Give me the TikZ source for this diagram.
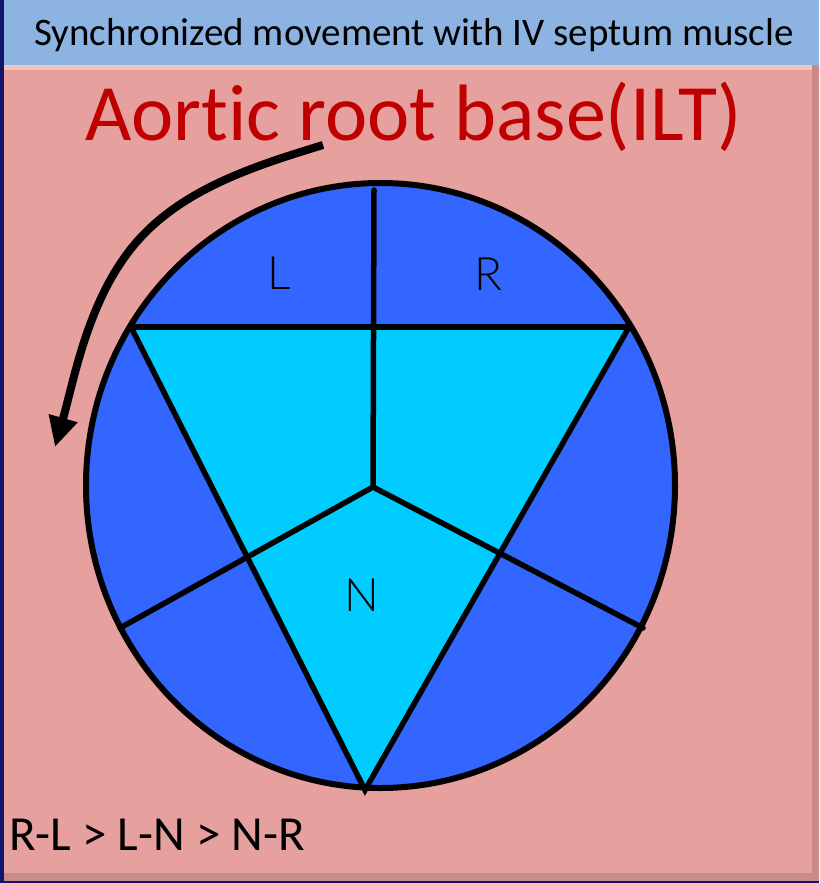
\documentclass[tikz,border=0pt]{standalone}
\usepackage{fontspec}
\setmainfont{Carlito}[Ligatures={NoCommon}]
\newfontfamily\lblfont{Lato Light}
\usetikzlibrary{arrows.meta}
\definecolor{navy}{HTML}{14146A}
\definecolor{headblue}{HTML}{8DB3E2}
\definecolor{panelpink}{HTML}{E6A09E}
\definecolor{panellight}{HTML}{F3C3C1}
\definecolor{paneldark}{HTML}{C98B89}
\definecolor{cuspblue}{HTML}{3366FF}
\definecolor{cuspcyan}{HTML}{00CCFF}
\definecolor{titlered}{HTML}{C00000}
\tikzset{
  rim/.style={line width=6pt, draw=black},
  seam/.style={line width=5.5pt, draw=black, line cap=round, line join=miter},
  cusplabel/.style={font=\lblfont\fontsize{46}{46}\selectfont, inner sep=0pt},
  turn/.style={line width=8pt, -{Triangle[length=30pt,width=28pt]}},
}
\begin{document}
\begin{tikzpicture}[x=1pt,y=-1pt]
  \useasboundingbox (0,0) rectangle (819,883);
  % slide frame
  \fill[navy] (0,0) rectangle (819,883);
  \fill[panelpink] (4,65) rectangle (819,881);
  \fill[panellight] (4,65) rectangle (812,70);
  \fill[paneldark] (812,65) rectangle (819,881);
  \fill[paneldark] (4,873) rectangle (819,881);
  \fill[headblue] (4,0) rectangle (819,65);

  % texts
  \node[anchor=base west, inner sep=0pt, font=\fontsize{39}{39}\selectfont] (head) at (34,46)
    {Synchronized movement with IV septum muscle};
  \node[anchor=base west, inner sep=0pt, text=titlered, font=\fontsize{80}{80}\selectfont] (title) at (85,140)
    {Aortic root base(ILT)};
  \node[anchor=base west, inner sep=0pt, font=\fontsize{49}{49}\selectfont] (order) at (9,850)
    {R-L > L-N > N-R};

  % key points of the valve
  \coordinate (O)  at (380.5,485.5);
  \coordinate (TL) at (131,327);
  \coordinate (TR) at (629,327);
  \coordinate (TB) at (365,790);
  \coordinate (C)  at (373,487);
  \coordinate (VT) at (374,190);
  \coordinate (SL) at (120,628);
  \coordinate (SR) at (643,628);

  % cusps
  \fill[cuspblue] (O) ellipse [x radius=294.5, y radius=302.5];
  \fill[cuspcyan] (TL) -- (TR) -- (TB) -- cycle;
  \draw[seam] (TL) -- (TR);
  \draw[seam] (TL) -- (TB) -- (TR);
  \draw[seam] (VT) -- (C);
  \draw[seam] (SL) -- (C) -- (SR);
  \draw[rim] (O) ellipse [x radius=294.5, y radius=302.5];

  \node[cusplabel] (L) at (279,273) {L};
  \node[cusplabel] (R) at (488,274) {R};
  \node[cusplabel] (N) at (362,595) {N};

  % rotation arrow
  \coordinate (a0) at (323,145);
  \coordinate (a1) at (130,250);
  \coordinate (a2) at (55,447);
  \draw[turn] (a0) .. controls (251,167) and (176,191) .. (a1)
                   .. controls (87,305) and (74,380) .. (a2);
\end{tikzpicture}
\end{document}
